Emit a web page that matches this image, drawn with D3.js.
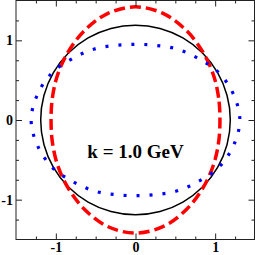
<!doctype html>
<html>
<head>
<meta charset="utf-8">
<script src="https://d3js.org/d3.v7.min.js" charset="utf-8"></script>
<style>
body { margin: 0; background: #fff; }
.tick text { font-family: "Liberation Serif", "Times New Roman", serif; font-weight: bold; font-size: 14px; fill: #000; }
.tick line { stroke: #222; }
</style>
</head>
<body>
<svg width="256" height="255"></svg>
<script>
// radii, first quadrant, every 15 degrees
var angles = [0, 15, 30, 45, 60, 75, 90];
var blackR = [1.19, 1.19, 1.19, 1.19, 1.19, 1.19, 1.19];
var redR   = [1.06, 1.08, 1.13, 1.20, 1.29, 1.38, 1.42];
var blueR  = [1.31, 1.27, 1.20, 1.10, 1.03, 0.97, 0.95];
var majorTicks = [-1, 0, 1];
var minorTicks = [-1.25, -0.75, -0.5, -0.25, 0.25, 0.5, 0.75, 1.25];
var label = "k = 1.0 GeV";

var svg = d3.select("svg");
var xScale = d3.scaleLinear().domain([-1.5, 1.5]).range([16, 255]),
    yScale = d3.scaleLinear().domain([-1.5, 1.5]).range([239.5, 0.5]);

// full closed curve by mirroring the quadrant
function fullCurve(r) {
  var pts = [];
  for (var q = 0; q < 4; q++) {
    for (var i = 0; i < angles.length - 1; i++) {
      var k = (q % 2 == 0) ? i : angles.length - 1 - i;
      var a = (q * 90 + ((q % 2 == 0) ? angles[k] : 90 - angles[k])) * Math.PI / 180;
      pts.push([r[k] * Math.cos(a), r[k] * Math.sin(a)]);
    }
  }
  return pts;
}

var line = d3.line()
  .x(d => xScale(d[0]))
  .y(d => yScale(d[1]))
  .curve(d3.curveCatmullRomClosed);

svg.append("path").datum(fullCurve(blackR))
  .attr("d", line).attr("fill", "none")
  .attr("stroke", "#000").attr("stroke-width", 1.5);

svg.append("path").datum(fullCurve(redR))
  .attr("d", line).attr("fill", "none")
  .attr("stroke", "#ff0000").attr("stroke-width", 3.5)
  .attr("stroke-dasharray", "11,5");

svg.append("path").datum(fullCurve(blueR))
  .attr("d", line).attr("fill", "none")
  .attr("stroke", "#0000ff").attr("stroke-width", 3.2)
  .attr("stroke-dasharray", "3,10");

var fmt = d => (d < 0 ? "-" : "") + Math.abs(d);

// axes, ticks inward on all sides
function addAxis(axis, tr, vals, size, labels) {
  var g = svg.append("g").attr("transform", tr)
    .call(axis.tickValues(vals).tickSizeInner(-size).tickSizeOuter(0).tickPadding(labels ? 3 : 0)
      .tickFormat(labels ? fmt : ""));
  g.select(".domain").remove();
  return g;
}
addAxis(d3.axisBottom(xScale), "translate(0,239.5)", majorTicks, 6, true);
addAxis(d3.axisBottom(xScale), "translate(0,239.5)", minorTicks, 3, false);
addAxis(d3.axisTop(xScale), "translate(0,0.5)", majorTicks, 6, false);
addAxis(d3.axisTop(xScale), "translate(0,0.5)", minorTicks, 3, false);
addAxis(d3.axisLeft(yScale), "translate(16,0)", majorTicks, 6, true);
addAxis(d3.axisLeft(yScale), "translate(16,0)", minorTicks, 3, false);
addAxis(d3.axisRight(yScale), "translate(254.5,0)", majorTicks, 6, false);
addAxis(d3.axisRight(yScale), "translate(254.5,0)", minorTicks, 3, false);

svg.append("rect")
  .attr("x", 16).attr("y", 0.5)
  .attr("width", 238.5).attr("height", 239)
  .attr("fill", "none").attr("stroke", "#222").attr("stroke-width", 1);

svg.append("text")
  .attr("x", xScale(0)).attr("y", 158)
  .attr("text-anchor", "middle")
  .style("font-family", "Liberation Serif, Times New Roman, serif")
  .style("font-weight", "bold")
  .style("font-size", "19px")
  .text(label);
</script>
</body>
</html>
